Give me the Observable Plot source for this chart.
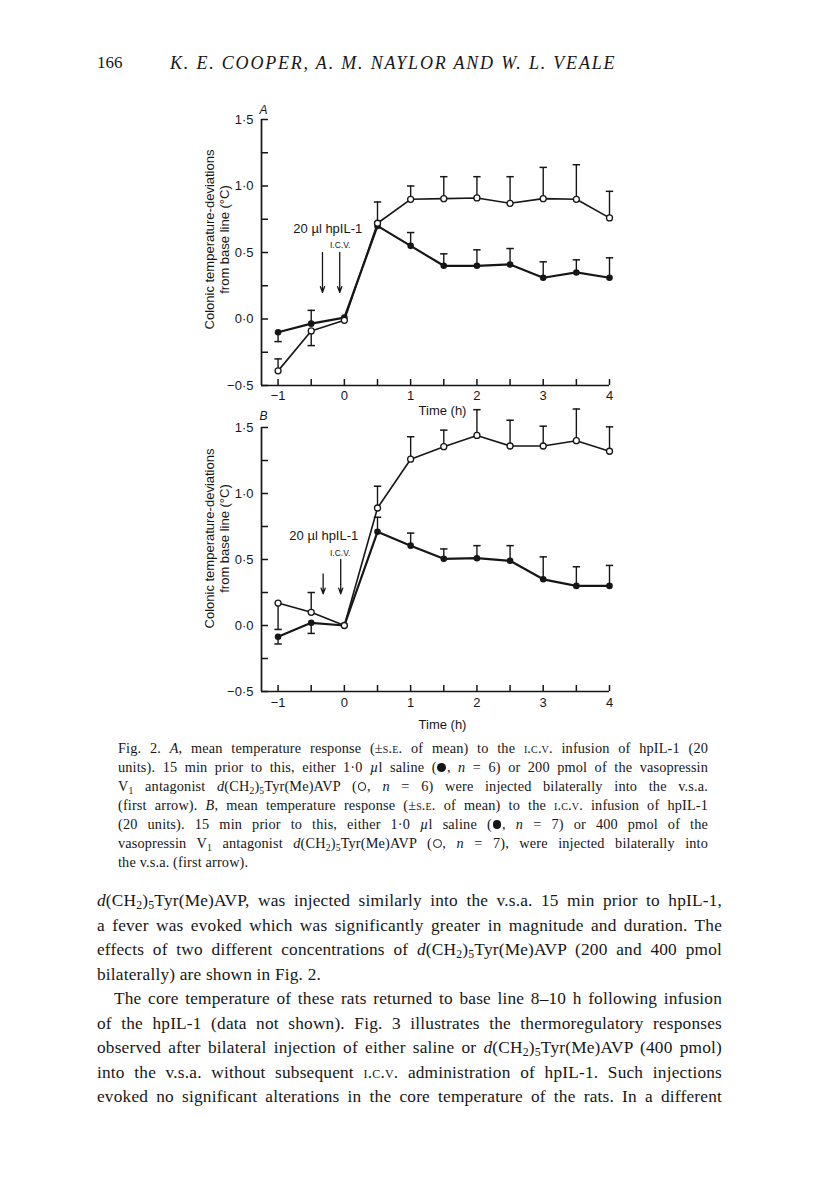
<!DOCTYPE html>
<html><head><meta charset="utf-8">
<script src="https://cdn.jsdelivr.net/npm/d3@7"></script>
<script src="https://cdn.jsdelivr.net/npm/@observablehq/plot@0.6"></script>
<style>
body{margin:0;background:#fff;}
#page{position:relative;width:816px;height:1181px;overflow:hidden;font-family:"Liberation Serif","Times New Roman",serif;color:#161616;background:#fff;}
.abs{position:absolute;}
.ln{position:absolute;white-space:normal;text-align:justify;text-align-last:justify;height:22px;line-height:22px;}
.last{text-align-last:left;}
.sc{font-variant:small-caps;}
sub{font-size:68%;vertical-align:-0.28em;line-height:0;}
.fc,.oc{display:inline-block;width:0.62em;height:0.62em;border-radius:50%;box-sizing:border-box;vertical-align:-0.02em;margin:0 0.05em;}
.fc{background:#161616;}
.oc{border:1.2px solid #161616;background:#fff;}
.plot{position:absolute;}
.plot svg{overflow:visible;}
</style></head>
<body><div id="page">
<div class="abs" style="left:97px;top:51px;font-size:17px;line-height:24px;">166</div>
<div class="abs" style="left:170px;top:51px;font-size:18px;line-height:24px;font-style:italic;letter-spacing:1.8px;white-space:nowrap;">K. E. COOPER, A. M. NAYLOR AND W. L. VEALE</div>
<div id="plotA" class="plot" style="left:180px;top:92px;"></div>
<div id="plotB" class="plot" style="left:180px;top:400px;"></div>
</div>
<script>
// ---- data ----
const time = [-1, -0.5, 0, 0.5, 1, 1.5, 2, 2.5, 3, 3.5, 4];
// Panel A: saline (filled) and 200 pmol antagonist (open)
const aSalineMean = [-0.10, -0.035, 0.01, 0.70, 0.55, 0.40, 0.40, 0.41, 0.31, 0.35, 0.31];
const aSalineTip  = [-0.17, 0.065, null, null, 0.65, 0.49, 0.52, 0.53, 0.43, 0.445, 0.46];
const aAntagMean  = [-0.39, -0.09, -0.01, 0.72, 0.90, 0.905, 0.91, 0.87, 0.905, 0.90, 0.76];
const aAntagTip   = [-0.30, -0.20, null, 0.88, 1.00, 1.07, 1.07, 1.07, 1.14, 1.16, 0.96];
// Panel B: saline (filled) and 400 pmol antagonist (open)
const bSalineMean = [-0.085, 0.02, 0.0, 0.71, 0.605, 0.505, 0.51, 0.49, 0.35, 0.30, 0.30];
const bSalineTip  = [-0.14, -0.06, null, 0.82, 0.70, 0.58, 0.605, 0.605, 0.52, 0.445, 0.455];
const bAntagMean  = [0.17, 0.10, 0.0, 0.89, 1.26, 1.355, 1.44, 1.36, 1.36, 1.40, 1.32];
const bAntagTip   = [-0.03, 0.25, null, 1.055, 1.43, 1.48, 1.635, 1.555, 1.51, 1.64, 1.505];
// injection arrows and annotation
const arrowsA = [{x: -0.33, y1: 0.5, y2: 0.2}, {x: -0.07, y1: 0.5, y2: 0.2}];
const arrowsB = [{x: -0.32, y1: 0.39, y2: 0.24}, {x: -0.055, y1: 0.5, y2: 0.24}];
const notesA = [{x: -0.25, y: 0.68, text: "20 µl hpIL-1", size: 13}, {x: -0.063, y: 0.555, text: "I.C.V.", size: 8.5}];
const notesB = [{x: -0.31, y: 0.678, text: "20 µl hpIL-1", size: 13}, {x: -0.063, y: 0.547, text: "I.C.V.", size: 8.5}];
// axes
const xDomain = [-1.25, 4];
const yDomain = [-0.5, 1.5];
const xTicks = [-1, -0.5, 0, 0.5, 1, 1.5, 2, 2.5, 3, 3.5, 4];
const yTicks = [-0.5, -0.25, 0, 0.25, 0.5, 0.75, 1, 1.25, 1.5];
const xLabel = "Time (h)";
const yLabel = "Colonic temperature-deviations\nfrom base line (°C)";

const fmtNum = (v) => (v < 0 ? "−" : "") + Math.abs(v).toFixed(1).replace(".", "·");
const fmtX = (v) => Number.isInteger(v) ? (v < 0 ? "−" : "") + Math.abs(v) : "";
const fmtY = (v) => Math.abs(v * 2 - Math.round(v * 2)) < 1e-9 ? fmtNum(v) : "";
const cap = {draw(ctx, size) { const w = Math.sqrt(size / Math.PI); ctx.moveTo(-w, 0); ctx.lineTo(w, 0); }};

function panel(letter, sMean, sTip, aMean, aTip, arrows, notes, o) {
  const rows = time.map((t, i) => ({t, sm: sMean[i], st: sTip[i], am: aMean[i], at: aTip[i]}));
  const sErr = rows.filter((d) => d.st != null);
  const aErr = rows.filter((d) => d.at != null);
  return Plot.plot({
    width: 450, height: o.height,
    marginLeft: 81, marginRight: 21, marginTop: o.mt, marginBottom: o.mb,
    x: {domain: xDomain},
    y: {domain: yDomain},
    style: {fontFamily: "'Liberation Sans', Arial, sans-serif", fontSize: "13px", color: "#161616", background: "transparent", overflow: "visible"},
    marks: [
      Plot.axisX({ticks: xTicks, tickSize: -6, tickPadding: o.xPad, tickFormat: fmtX, label: null, strokeWidth: 1.5, fontSize: 13}),
      Plot.axisY({ticks: yTicks, tickSize: -7, tickPadding: 15, tickFormat: fmtY, label: null, strokeWidth: 1.5, fontSize: 13}),
      Plot.ruleX([xDomain[0]], {y1: yDomain[0], y2: yDomain[1], strokeWidth: 1.7}),
      Plot.ruleY([yDomain[0]], {x1: xDomain[0], x2: xDomain[1], strokeWidth: 1.7}),
      Plot.text([xLabel], {frameAnchor: "bottom", dy: o.xLabelDy, dx: 7, fontSize: 13, lineAnchor: "middle"}),
      Plot.text([yLabel], {frameAnchor: "left", rotate: -90, dx: -45, dy: o.yLabelDy, lineHeight: 1.2, fontSize: 13, textAnchor: "middle", lineAnchor: "middle"}),
      Plot.text([letter], {frameAnchor: "top-left", dx: 2, dy: o.letterDy, fontStyle: "italic", fontSize: 12, textAnchor: "middle", lineAnchor: "middle"}),
      Plot.arrow(arrows, {x: "x", y1: "y1", y2: "y2", headLength: 7, headAngle: 40, strokeWidth: 1.3}),
      Plot.text(notes, {x: "x", y: "y", text: "text", fontSize: "size"}),
      Plot.ruleX(aErr, {x: "t", y1: "am", y2: "at", strokeWidth: 1.4}),
      Plot.dot(aErr, {x: "t", y: "at", symbol: cap, r: 3.7, stroke: "#161616", strokeWidth: 1.5}),
      Plot.ruleX(sErr, {x: "t", y1: "sm", y2: "st", strokeWidth: 1.4}),
      Plot.dot(sErr, {x: "t", y: "st", symbol: cap, r: 3.7, stroke: "#161616", strokeWidth: 1.5}),
      Plot.line(rows, {x: "t", y: "am", strokeWidth: 1.6, stroke: "#161616"}),
      Plot.line(rows, {x: "t", y: "sm", strokeWidth: 2.2, stroke: "#161616"}),
      Plot.dot(rows, {x: "t", y: "sm", r: 3.3, fill: "#161616"}),
      Plot.dot(rows, {x: "t", y: "am", r: 3, fill: "white", stroke: "#161616", strokeWidth: 1.3})
    ]
  });
}

document.getElementById("plotA").append(panel("A", aSalineMean, aSalineTip, aAntagMean, aAntagTip, arrowsA, notesA,
  {height: 335, mt: 27, mb: 42, xPad: 11, xLabelDy: 25, yLabelDy: -13, letterDy: -9}));
document.getElementById("plotB").append(panel("B", bSalineMean, bSalineTip, bAntagMean, bAntagTip, arrowsB, notesB,
  {height: 331, mt: 27, mb: 40, xPad: 12, xLabelDy: 33, yLabelDy: -21, letterDy: -11}));

// ---- caption and body text ----
const captionLines = [
  "Fig. 2. <i>A</i>, mean temperature response (±<span class='sc'>s.e.</span> of mean) to the <span class='sc'>i.c.v.</span> infusion of hpIL-1 (20",
  "units). 15 min prior to this, either 1·0 <i>µ</i>l saline (<span class='fc'></span>, <i>n</i> = 6) or 200 pmol of the vasopressin",
  "V<sub>1</sub> antagonist <i>d</i>(CH<sub>2</sub>)<sub>5</sub>Tyr(Me)AVP (<span class='oc'></span>, <i>n</i> = 6) were injected bilaterally into the v.s.a.",
  "(first arrow). <i>B</i>, mean temperature response (±<span class='sc'>s.e.</span> of mean) to the <span class='sc'>i.c.v.</span> infusion of hpIL-1",
  "(20 units). 15 min prior to this, either 1·0 <i>µ</i>l saline (<span class='fc'></span>, <i>n</i> = 7) or 400 pmol of the",
  "vasopressin V<sub>1</sub> antagonist <i>d</i>(CH<sub>2</sub>)<sub>5</sub>Tyr(Me)AVP (<span class='oc'></span>, <i>n</i> = 7), were injected bilaterally into",
  "the v.s.a. (first arrow)."
];
const bodyLines = [
  "<i>d</i>(CH<sub>2</sub>)<sub>5</sub>Tyr(Me)AVP, was injected similarly into the v.s.a. 15 min prior to hpIL-1,",
  "a fever was evoked which was significantly greater in magnitude and duration. The",
  "effects of two different concentrations of <i>d</i>(CH<sub>2</sub>)<sub>5</sub>Tyr(Me)AVP (200 and 400 pmol",
  "bilaterally) are shown in Fig. 2.",
  "The core temperature of these rats returned to base line 8–10 h following infusion",
  "of the hpIL-1 (data not shown). Fig. 3 illustrates the thermoregulatory responses",
  "observed after bilateral injection of either saline or <i>d</i>(CH<sub>2</sub>)<sub>5</sub>Tyr(Me)AVP (400 pmol)",
  "into the v.s.a. without subsequent <span class='sc'>i.c.v.</span> administration of hpIL-1. Such injections",
  "evoked no significant alterations in the core temperature of the rats. In a different"
];
const page = document.getElementById("page");
function place(lines, {left, right, top, step, size, spacing, lastIdx, indentIdx, indent}) {
  lines.forEach((html, i) => {
    const d = document.createElement("div");
    d.className = "ln" + (lastIdx.includes(i) ? " last" : "");
    const l = left + (indentIdx.includes(i) ? indent : 0);
    d.style.left = l + "px";
    d.style.width = (right - l) + "px";
    d.style.top = (top + i * step - 11) + "px";
    d.style.fontSize = size + "px";
    d.style.letterSpacing = spacing + "px";
    d.innerHTML = html;
    page.append(d);
  });
}
place(captionLines, {left: 118, right: 708, top: 748, step: 19, size: 14.3, spacing: 0.15, lastIdx: [6], indentIdx: [], indent: 0});
place(bodyLines, {left: 97, right: 722, top: 901, step: 24.5, size: 17.3, spacing: 0.2, lastIdx: [3], indentIdx: [4], indent: 17});
</script>
</body></html>
